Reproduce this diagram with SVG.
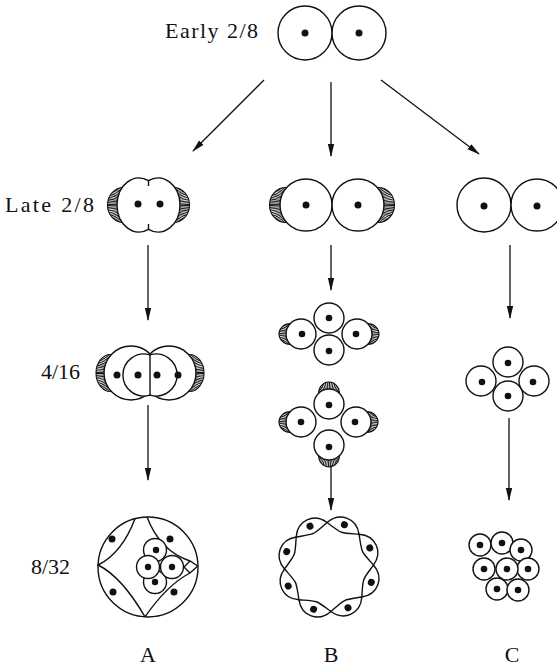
<svg xmlns="http://www.w3.org/2000/svg" xmlns:xlink="http://www.w3.org/1999/xlink" width="557" height="667" viewBox="0 0 557 667">
  <style>
    .cell { fill: #fff; stroke: #111; stroke-width: 1.4; }
    .line { fill: none; stroke: #111; stroke-width: 1.4; }
    .nuc { fill: #111; stroke: none; }
    .hatch { fill: none; stroke: #111; stroke-dasharray: 0.9 0.7; }
    .capEdge { fill: none; stroke: #111; stroke-width: 1.1; }
    .arrow { fill: none; stroke: #111; stroke-width: 1.3; marker-end: url(#ah); }
    .label { font-family: "Liberation Serif", "Times New Roman", serif; font-size: 22px; fill: #111; }
  </style>
  <defs>
    <marker id="ah" viewBox="0 -4 13 8" refX="12" refY="0" markerWidth="13" markerHeight="8" markerUnits="userSpaceOnUse" orient="auto">
      <path d="M0,-3.2 L13,0 L0,3.2 Z" fill="#111"/>
    </marker>
    <!-- hatched polar caps; local frame: cell centre at origin, cap facing +x -->
    <clipPath id="clipCapL"><ellipse cx="20.5" cy="0" rx="16" ry="17.5"/></clipPath>
    <clipPath id="clipCapM"><ellipse cx="20.5" cy="0" rx="14.5" ry="18.5"/></clipPath>
    <clipPath id="clipCapS"><ellipse cx="10.79" cy="0" rx="11.21" ry="10.42"/></clipPath>
    <g id="capL">
      <circle r="31" class="hatch" stroke-width="16" clip-path="url(#clipCapL)"/>
      <ellipse cx="20.5" cy="0" rx="16" ry="17.5" class="capEdge"/>
    </g>
    <g id="capM">
      <circle r="30" class="hatch" stroke-width="12" clip-path="url(#clipCapM)"/>
      <ellipse cx="20.5" cy="0" rx="14.5" ry="18.5" class="capEdge"/>
    </g>
    <g id="capS">
      <circle r="18" class="hatch" stroke-width="10" clip-path="url(#clipCapS)"/>
      <ellipse cx="10.79" cy="0" rx="11.21" ry="10.42" class="capEdge"/>
    </g>
    <!-- one lens-shaped cell of the twisted ring, centred on +x axis -->
    <g id="ringCell">
      <path class="line" d="M41.11,-17.03 C55.63,-9.03 55.63,9.03 41.11,17.03 C35.63,-1.9 35.63,1.9 41.11,-17.03 Z"/>
      <circle class="nuc" cx="45" cy="0" r="3.5"/>
    </g>
  </defs>

  <rect width="557" height="667" fill="#fff"/>

  <!-- row labels -->
  <g id="labels">
    <text class="label" x="165" y="38" textLength="93" lengthAdjust="spacing">Early 2/8</text>
    <text class="label" x="5" y="212" textLength="89" lengthAdjust="spacing">Late 2/8</text>
    <text class="label" x="41" y="379">4/16</text>
    <text class="label" x="31" y="574">8/32</text>
    <text class="label" x="148" y="662" text-anchor="middle">A</text>
    <text class="label" x="331" y="662" text-anchor="middle">B</text>
    <text class="label" x="512" y="662" text-anchor="middle">C</text>
  </g>

  <!-- early two-cell stage -->
  <g id="early">
    <circle class="cell" cx="305" cy="33" r="27"/>
    <circle class="cell" cx="359" cy="33" r="27"/>
    <circle class="nuc" cx="305" cy="33" r="3.5"/>
    <circle class="nuc" cx="359" cy="33" r="3.5"/>
  </g>

  <!-- column A, late 2/8: fused pair with caps -->
  <g id="lateA">
    <use href="#capL" transform="translate(144,205) rotate(180)"/>
    <use href="#capL" transform="translate(153,205)"/>
    <path class="cell" d="M148.5,180.65 A22,27 0 1 0 148.5,229.35 A22,27 0 1 0 148.5,180.65 Z"/>
    <path class="line" d="M148.5,180.65 V186 M148.5,224 V229.35"/>
    <circle class="nuc" cx="138" cy="204" r="3.5"/>
    <circle class="nuc" cx="160" cy="204" r="3.5"/>
  </g>

  <!-- column B, late 2/8 -->
  <g id="lateB">
    <use href="#capL" transform="translate(306,205) rotate(180)"/>
    <use href="#capL" transform="translate(358,205)"/>
    <circle class="cell" cx="306" cy="205" r="26"/>
    <circle class="cell" cx="358" cy="205" r="26"/>
    <circle class="nuc" cx="306" cy="205" r="3.5"/>
    <circle class="nuc" cx="358" cy="205" r="3.5"/>
  </g>

  <!-- column C, late 2/8 -->
  <g id="lateC">
    <circle class="cell" cx="484" cy="205" r="27"/>
    <circle class="cell" cx="537" cy="205" r="26"/>
    <circle class="nuc" cx="484" cy="206" r="3.5"/>
    <circle class="nuc" cx="537" cy="206" r="3.5"/>
  </g>

  <!-- column A, 4/16 -->
  <g id="stage4A">
    <use href="#capM" transform="translate(131,373) rotate(180)"/>
    <use href="#capM" transform="translate(169,373)"/>
    <circle class="cell" cx="131" cy="373" r="27"/>
    <circle class="cell" cx="169" cy="373" r="27"/>
    <path class="cell" d="M150,354.9 A21,21 0 1 0 150,395.1 A21,21 0 1 0 150,354.9 Z"/>
    <path class="line" d="M150,354.9 V395.1"/>
    <circle class="nuc" cx="117" cy="375" r="3.5"/>
    <circle class="nuc" cx="138" cy="375" r="3.5"/>
    <circle class="nuc" cx="157" cy="375" r="3.5"/>
    <circle class="nuc" cx="178" cy="375" r="3.5"/>
  </g>

  <!-- column B, 4/16 upper -->
  <g id="stage4B1">
    <use href="#capS" transform="translate(301,334) rotate(180)"/>
    <use href="#capS" transform="translate(357,334)"/>
    <circle class="cell" cx="301" cy="334" r="15"/>
    <circle class="cell" cx="357" cy="334" r="15"/>
    <circle class="cell" cx="329" cy="350" r="15"/>
    <circle class="cell" cx="329" cy="318" r="15"/>
    <circle class="nuc" cx="302" cy="334" r="3.3"/>
    <circle class="nuc" cx="356" cy="334" r="3.3"/>
    <circle class="nuc" cx="329" cy="351" r="3.3"/>
    <circle class="nuc" cx="329" cy="318" r="3.3"/>
  </g>

  <!-- column B, 4/16 lower -->
  <g id="stage4B2">
    <use href="#capS" transform="translate(329,404) rotate(-90)"/>
    <use href="#capS" transform="translate(329,445) rotate(90)"/>
    <use href="#capS" transform="translate(301,422) rotate(180)"/>
    <use href="#capS" transform="translate(356,422)"/>
    <circle class="cell" cx="301" cy="422" r="15"/>
    <circle class="cell" cx="356" cy="422" r="15"/>
    <circle class="cell" cx="329" cy="445" r="15"/>
    <circle class="cell" cx="329" cy="404" r="15"/>
    <circle class="nuc" cx="301" cy="422" r="3.3"/>
    <circle class="nuc" cx="355" cy="422" r="3.3"/>
    <circle class="nuc" cx="329" cy="447" r="3.3"/>
    <circle class="nuc" cx="329" cy="405" r="3.3"/>
  </g>

  <!-- column C, 4/16 -->
  <g id="stage4C">
    <circle class="cell" cx="481" cy="381" r="15"/>
    <circle class="cell" cx="534" cy="381" r="15"/>
    <circle class="cell" cx="508" cy="396" r="15"/>
    <circle class="cell" cx="508" cy="362" r="15"/>
    <circle class="nuc" cx="482" cy="382" r="3.3"/>
    <circle class="nuc" cx="533" cy="382" r="3.3"/>
    <circle class="nuc" cx="508" cy="396" r="3.3"/>
    <circle class="nuc" cx="508" cy="363" r="3.3"/>
  </g>

  <!-- column A, 8/32 -->
  <g id="stage8A">
    <circle class="cell" cx="148" cy="567" r="50"/>
    <path class="line" d="M135,518.7 Q122,553 98.1,565 Q122,577 145,616.9"/>
    <path class="line" d="M147,517 Q160,551 190,561 L197.8,566"/>
    <path class="line" d="M145,616.9 Q167,585 190,573 L197.8,566"/>
    <path class="line" d="M190,561 L184,567 L190,573"/>
    <circle class="cell" cx="155" cy="550" r="11.5"/>
    <circle class="cell" cx="155" cy="582" r="11.5"/>
    <circle class="cell" cx="172" cy="567" r="11.5"/>
    <circle class="cell" cx="148" cy="567" r="11.5"/>
    <circle class="nuc" cx="112" cy="539" r="3.5"/>
    <circle class="nuc" cx="170" cy="539" r="3.5"/>
    <circle class="nuc" cx="113" cy="592" r="3.5"/>
    <circle class="nuc" cx="174" cy="592" r="3.5"/>
    <circle class="nuc" cx="156" cy="550" r="3.2"/>
    <circle class="nuc" cx="148" cy="567" r="3.2"/>
    <circle class="nuc" cx="172" cy="567" r="3.2"/>
    <circle class="nuc" cx="155" cy="582" r="3.2"/>
  </g>

  <!-- column B, 8/32: twisted ring of eight cells -->
  <g id="stage8B" transform="translate(329,567)">
    <use href="#ringCell" transform="rotate(20)"/>
    <use href="#ringCell" transform="rotate(65)"/>
    <use href="#ringCell" transform="rotate(110)"/>
    <use href="#ringCell" transform="rotate(155)"/>
    <use href="#ringCell" transform="rotate(200)"/>
    <use href="#ringCell" transform="rotate(245)"/>
    <use href="#ringCell" transform="rotate(290)"/>
    <use href="#ringCell" transform="rotate(335)"/>
  </g>

  <!-- column C, 8/32: compact cluster -->
  <g id="stage8C">
    <circle class="cell" cx="480" cy="545" r="11"/>
    <circle class="cell" cx="502" cy="543" r="11"/>
    <circle class="cell" cx="521" cy="550" r="11"/>
    <circle class="cell" cx="497" cy="589" r="11"/>
    <circle class="cell" cx="518" cy="590" r="11"/>
    <circle class="cell" cx="484" cy="569" r="11"/>
    <circle class="cell" cx="528" cy="569" r="11"/>
    <circle class="cell" cx="507" cy="569" r="11"/>
    <circle class="nuc" cx="480" cy="545" r="3.3"/>
    <circle class="nuc" cx="502" cy="543" r="3.3"/>
    <circle class="nuc" cx="521" cy="550" r="3.3"/>
    <circle class="nuc" cx="484" cy="569" r="3.3"/>
    <circle class="nuc" cx="507" cy="569" r="3.3"/>
    <circle class="nuc" cx="528" cy="569" r="3.3"/>
    <circle class="nuc" cx="497" cy="589" r="3.3"/>
    <circle class="nuc" cx="518" cy="590" r="3.3"/>
  </g>

  <!-- connectors -->
  <g id="connectors">
    <path class="arrow" d="M264,80 L193,151"/>
    <path class="arrow" d="M331,82 L331,156"/>
    <path class="arrow" d="M381,80 L479,154"/>
    <path class="arrow" d="M148,245 L148,320"/>
    <path class="arrow" d="M331,245 L331,290"/>
    <path class="arrow" d="M510,245 L510,318"/>
    <path class="arrow" d="M148,405 L148,480"/>
    <path class="arrow" d="M331,465 L331,510"/>
    <path class="arrow" d="M509,418 L509,500"/>
  </g>
</svg>
